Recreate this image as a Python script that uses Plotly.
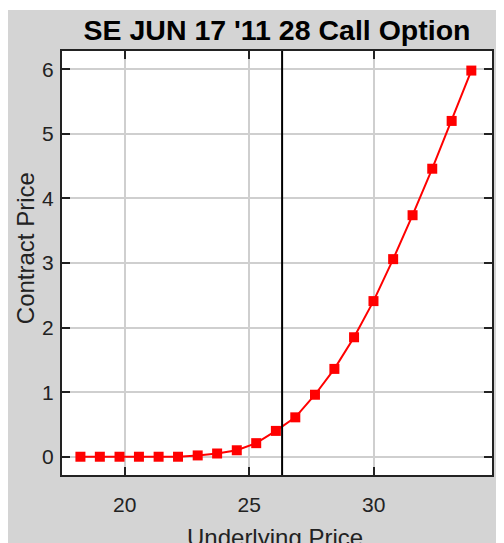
import plotly.graph_objects as go

# ---- data ----
underlying = [18.22, 19.00, 19.79, 20.57, 21.36, 22.14, 22.93, 23.71, 24.50, 25.28,
              26.07, 26.85, 27.64, 28.42, 29.21, 29.99, 30.78, 31.56, 32.35, 33.13, 33.92]
contract = [0.00, 0.00, 0.00, 0.00, 0.00, 0.00, 0.02, 0.05, 0.10, 0.21,
            0.40, 0.61, 0.96, 1.36, 1.85, 2.41, 3.06, 3.74, 4.46, 5.20, 5.98]
current_price = 26.32
x_ticks = [20, 25, 30]
y_ticks = [0, 1, 2, 3, 4, 5, 6]
title_text = "SE JUN 17 '11 28 Call Option"
x_title = "Underlying Price"
y_title = "Contract Price"

# the page body adds an 8px offset; figure coordinates below are relative to it
W, H = 496, 535
L, R, T, B = 54, 10, 43, 68
pw, ph = W - L - R, H - T - B

def px_x(p):
    return (p - L) / pw

def px_y(p):
    return (H - B - p) / ph

fig = go.Figure()
fig.add_trace(go.Scatter(
    x=underlying, y=contract, mode="lines+markers",
    line=dict(color="#ff0000", width=2),
    marker=dict(symbol="square", size=10, color="#ff0000"),
    showlegend=False, hoverinfo="x+y",
))

axis_common = dict(
    showline=True, linecolor="#222222", linewidth=2, mirror="allticks",
    ticks="inside", ticklen=8, tickwidth=2, tickcolor="#222222",
    showgrid=True, gridcolor="#cfcfcf", gridwidth=2, zeroline=False,
    tickfont=dict(family="Liberation Sans, Arial, sans-serif", size=21, color="#222222"),
)

fig.update_xaxes(range=[17.48, 34.75], tickvals=x_ticks, ticklabelstandoff=10, **axis_common)
fig.update_yaxes(range=[-0.283, 6.283], tickvals=y_ticks, ticklabelstandoff=2, **axis_common)

fig.add_shape(type="line", xref="x", yref="paper", x0=current_price, x1=current_price,
              y0=0, y1=1, line=dict(color="#000000", width=2), layer="above")

# thin white strip at the very top of the grey canvas
fig.add_shape(type="rect", xref="paper", yref="paper", x0=-0.3, x1=1.3, y0=px_y(2), y1=1.5,
              fillcolor="white", line=dict(width=0), layer="below")

fig.add_annotation(text=y_title, xref="paper", yref="paper", x=px_x(17), y=px_y(240),
                   xanchor="center", yanchor="middle", textangle=-90, showarrow=False,
                   font=dict(family="Liberation Sans, Arial, sans-serif", size=24, color="#222222"))
fig.add_annotation(text=x_title, xref="paper", yref="paper", x=px_x(268), y=px_y(514),
                   xanchor="center", yanchor="top", showarrow=False,
                   font=dict(family="Liberation Sans, Arial, sans-serif", size=24, color="#222222"))

fig.update_layout(
    width=W, height=H,
    margin=dict(l=L, r=R, t=T, b=B),
    paper_bgcolor="#d4d4d4", plot_bgcolor="white",
    title=dict(text=title_text, xref="paper", x=0.5, xanchor="center",
               yref="container", y=1 - 22 / H, yanchor="middle",
               font=dict(family="Liberation Sans, Arial, sans-serif", size=28.5, color="#000000",
                         weight="bold")),
)

fig.write_html("out.html")
